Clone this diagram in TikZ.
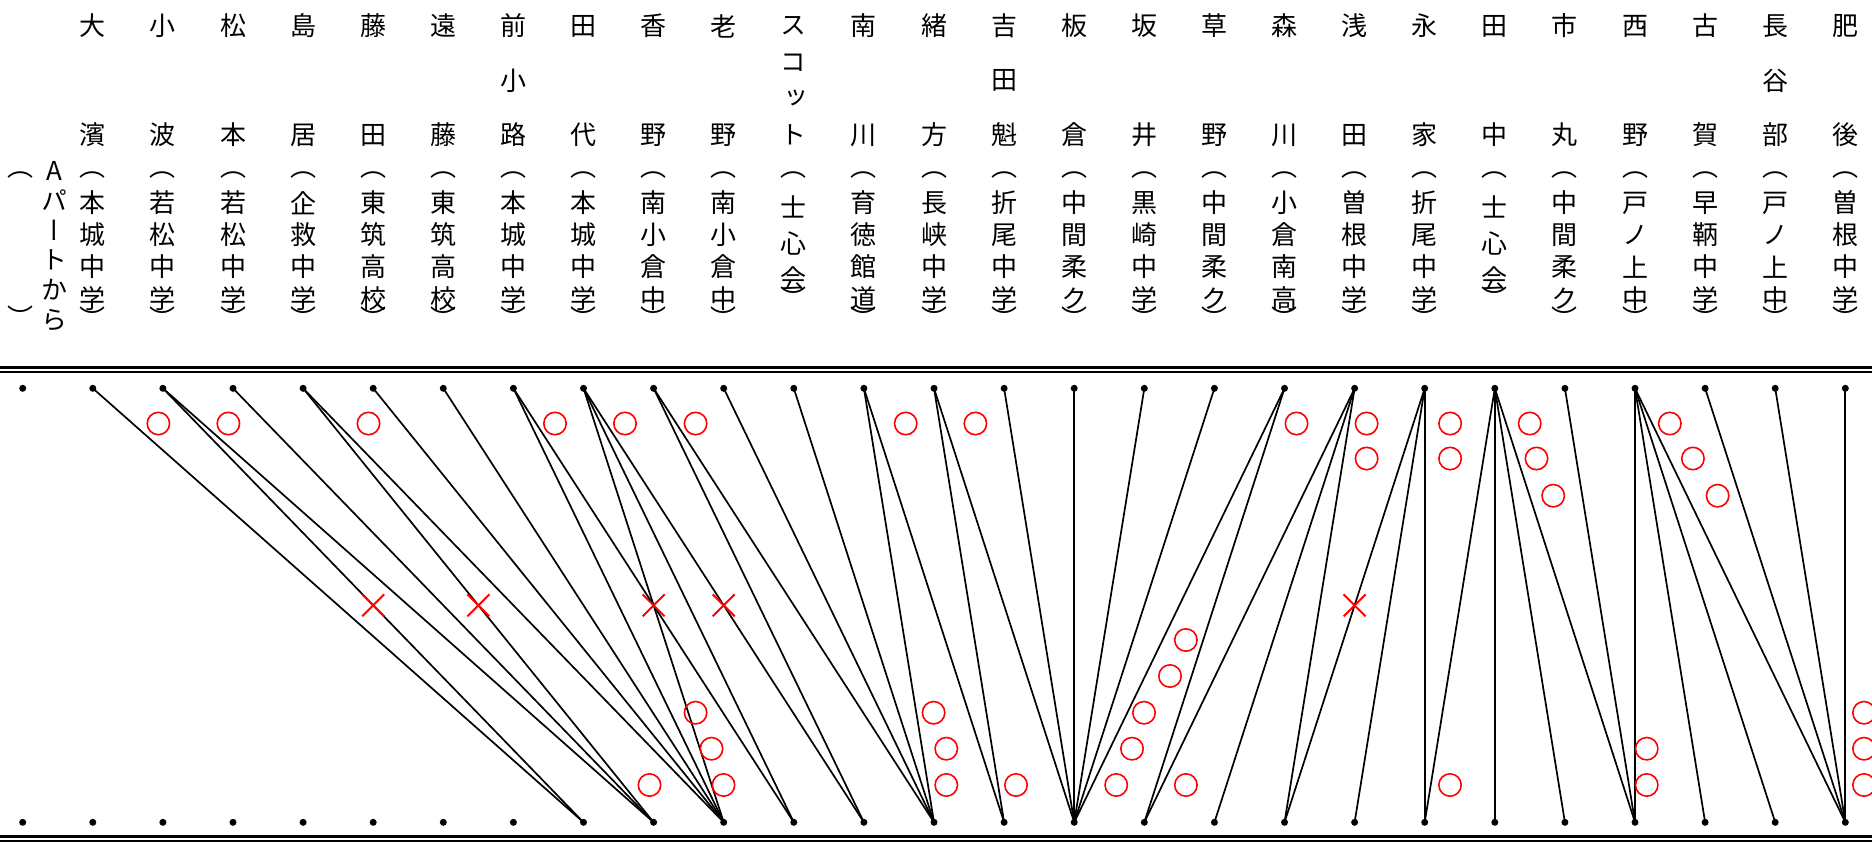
\documentclass[tikz,border=0pt]{standalone}
\usepackage{fontspec}
\newfontfamily\jpfont[RawFeature=+vert]{Noto Sans CJK JP}
\usetikzlibrary{shapes.misc}
\usetikzlibrary{calc}

\tikzset{
  glyph/.style={inner sep=0pt, font=\jpfont\fontsize{13pt}{13pt}\selectfont},
  dot/.style={circle, fill=black, inner sep=0pt, minimum size=3.5pt},
  link/.style={line width=0.85pt},
  win/.style={circle, draw=red, line width=0.8pt, inner sep=0pt, minimum size=11.2pt},
  lose/.style={cross out, draw=red, line width=1pt, inner sep=0pt, minimum size=10pt},
}

\newcommand\fighter[4][32]{%
  \foreach \c [count=\j] in {#3} {\xdef\nlen{\j}}
  \foreach \c [count=\i] in {#3}
    {\node[glyph] (nm#2-\i) at ({22.7+70.1*#2}, {26+109*(\i-1)/(\nlen-1)}) {\c};}
  \node[glyph] (op#2) at ({22.7+70.1*#2}, 175) {（};
  \foreach \c [count=\i] in {#4}
    {\node[glyph] (sc#2-\i) at ({22.7+70.1*#2}, {171+#1*\i}) {\c}; \xdef\slen{\i}}
  \node[glyph] (cl#2) at ({22.7+70.1*#2}, {171+#1*\slen+19}) {）};
}

\begin{document}
\begin{tikzpicture}[x=0.5pt, y=-0.5pt]
    \useasboundingbox (0,0) rectangle (1872,842);

    \node[glyph] (op0) at (21,175) {（};
    \node[glyph] (cl0) at (21,317) {）};
    \node[glyph] (ap0) at (54,171) {A};
    \foreach \c [count=\i] in {パ,ー,ト,か,ら}
        \node[glyph] (ap\i) at (54, {170+30*\i}) {\c};

    \fighter{1}{大,濱}{本,城,中,学}
    \fighter{2}{小,波}{若,松,中,学}
    \fighter{3}{松,本}{若,松,中,学}
    \fighter{4}{島,居}{企,救,中,学}
    \fighter{5}{藤,田}{東,筑,高,校}
    \fighter{6}{遠,藤}{東,筑,高,校}
    \fighter{7}{前,小,路}{本,城,中,学}
    \fighter{8}{田,代}{本,城,中,学}
    \fighter{9}{香,野}{南,小,倉,中}
    \fighter{10}{老,野}{南,小,倉,中}
    \fighter[36]{11}{ス,コ,ッ,ト}{士,心,会}
    \fighter{12}{南,川}{育,徳,館,道}
    \fighter{13}{緒,方}{長,峡,中,学}
    \fighter{14}{吉,田,魁}{折,尾,中,学}
    \fighter{15}{板,倉}{中,間,柔,ク}
    \fighter{16}{坂,井}{黒,崎,中,学}
    \fighter{17}{草,野}{中,間,柔,ク}
    \fighter{18}{森,川}{小,倉,南,高}
    \fighter{19}{浅,田}{曽,根,中,学}
    \fighter{20}{永,家}{折,尾,中,学}
    \fighter[36]{21}{田,中}{士,心,会}
    \fighter{22}{市,丸}{中,間,柔,ク}
    \fighter{23}{西,野}{戸,ノ,上,中}
    \fighter{24}{古,賀}{早,鞆,中,学}
    \fighter{25}{長,谷,部}{戸,ノ,上,中}
    \fighter{26}{肥,後}{曽,根,中,学}

    \draw[line width=1.65pt] (0,367.3) -- (1872,367.3);
    \draw[line width=1.15pt] (0,372.3) -- (1872,372.3);
    \draw[line width=1.65pt] (0,836.8) -- (1872,836.8);
    \draw[line width=1.15pt] (0,841) -- (1872,841);

    \foreach \k in {0,...,26} {
        \node[dot] (t\k) at ({22.7+70.1*\k}, 388.3) {};
        \node[dot] (b\k) at ({22.7+70.1*\k}, 822.3) {};
    }

    \foreach \a/\b in {1/8,2/8,2/9,3/9,4/9,4/10,5/10,6/10,7/10,7/11,8/10,8/11,8/12,
        9/12,9/13,10/13,11/13,12/13,12/14,13/14,13/15,14/15,15/15,16/15,17/15,18/15,
        18/16,19/16,19/17,19/18,20/18,20/19,20/20,21/20,21/21,21/22,21/23,22/23,
        23/23,23/24,23/25,23/26,24/26,25/26,26/26}
        \draw[link] (t\a.center) -- (b\b.center);

    \foreach \a/\b in {2/8,4/9,8/10,8/12,20/18}
        \node[lose] (x\a-\b) at ($(t\a)!.5!(b\b)$) {};

    \foreach \x/\y [count=\i] in {158.4/423.5,228.4/423.5,368.5/423.5,555/423.5,625/423.5,
        695.6/423.5,905.7/423.5,975.4/423.5,1296.5/423.5,1366.6/423.5,1450.1/423.5,
        1529.7/423.5,1669.8/423.5,1366.6/458.5,1450.1/458.5,1536.5/458.5,1692.9/458.5,
        1553.2/495.7,1717.6/495.7,1185.9/640,1170/676,
        695.6/712.7,933.6/712.7,1144/712.7,1864/712.7,
        711.5/748.7,946.3/748.7,1132/748.7,1646.7/748.7,1864/748.7,
        649.5/785,723.5/785,946.3/785,1016/785,1116.2/785,1185.9/785,1450/785,
        1646.7/785,1864/785}
        \node[win] (w\i) at (\x,\y) {};
\end{tikzpicture}
\end{document}
